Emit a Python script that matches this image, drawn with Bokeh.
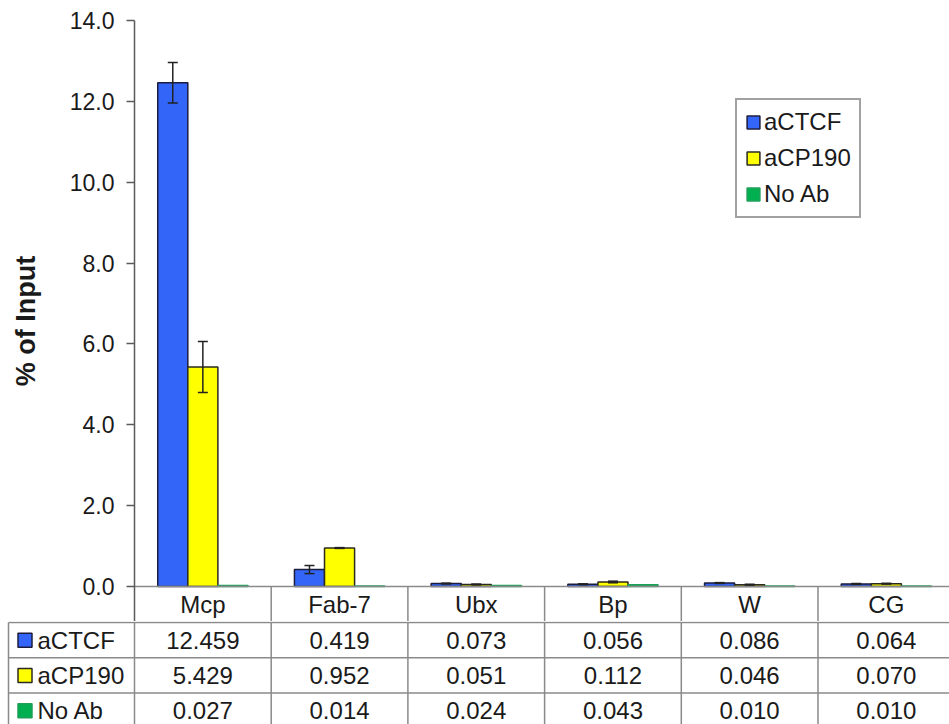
from bokeh.plotting import figure
from bokeh.models import (ColumnDataSource, Range1d, FixedTicker, NumeralTickFormatter,
                          Whisker, TeeHead, Legend, LegendItem)
from bokeh.core.properties import value
from bokeh.embed import file_html
from bokeh.resources import INLINE

# ---- data -------------------------------------------------------------
categories = ["Mcp", "Fab-7", "Ubx", "Bp", "W", "CG"]
series = ["aCTCF", "aCP190", "No Ab"]
actcf = [12.459, 0.419, 0.073, 0.056, 0.086, 0.064]
acp190 = [5.429, 0.952, 0.051, 0.112, 0.046, 0.070]
no_ab = [0.027, 0.014, 0.024, 0.043, 0.010, 0.010]
actcf_err = [0.50, 0.10, 0.01, 0.01, 0.01, 0.01]
acp190_err = [0.63, 0.01, 0.01, 0.02, 0.01, 0.01]
y_ticks = [0, 2, 4, 6, 8, 10, 12, 14]

# ---- styling / geometry ------------------------------------------------
FONT = value("Liberation Sans")
TXT = "#1a1a1a"
GRID = "#8a8a8a"
AXIS = "#5a5a5a"
fills = ["#3366f8", "#ffff00", "#00b050"]
edges = ["#1c1c3c", "#2a2a20", "#1f9e5a"]

W, H = 949, 724
AXIS_W = 134          # width of the y-axis / row-label column
TOP = 20
ZERO_PX = 586
CHART_H = 621         # chart canvas height (includes the header row of the table)
CAT_PX = 136.7        # width of one category column
ROW_PX = 35.3
PX_PER_Y = (ZERO_PX - TOP) / 14.0
BAR_W = 0.22
offsets = [-BAR_W, 0.0, BAR_W]

x_end = (W - AXIS_W) / CAT_PX
y_start = -(CHART_H - ZERO_PX) / PX_PER_Y

# ---- chart ------------------------------------------------------------
p = figure(width=W, height=CHART_H, x_range=Range1d(0, x_end),
           y_range=Range1d(y_start, 14), output_backend="svg",
           toolbar_location=None, x_axis_location=None,
           min_border_left=AXIS_W, min_border_right=0,
           min_border_top=TOP, min_border_bottom=0)
p.outline_line_color = None
p.grid.visible = False
p.background_fill_color = "white"

yax = p.yaxis[0]
yax.ticker = FixedTicker(ticks=y_ticks)
yax.formatter = NumeralTickFormatter(format="0.0")
yax.major_label_text_font = "Liberation Sans"
yax.major_label_text_font_size = "23px"
yax.major_label_text_color = TXT
yax.major_label_standoff = 12
yax.major_tick_out = 8
yax.major_tick_in = 0
yax.minor_tick_out = 0
yax.minor_tick_in = 0
yax.axis_line_color = AXIS
yax.axis_line_width = 1.5
yax.major_tick_line_color = AXIS
yax.major_tick_line_width = 1.5
yax.axis_label = "% of Input"
yax.axis_label_text_font = "Liberation Sans"
yax.axis_label_text_font_style = "bold"
yax.axis_label_text_font_size = "27px"
yax.axis_label_text_color = TXT
yax.axis_label_standoff = 26

values = [actcf, acp190, no_ab]
errors = [actcf_err, acp190_err, None]
renderers = []
for k, vals in enumerate(values):
    xs = [i + 0.5 + offsets[k] for i in range(len(categories))]
    src = ColumnDataSource(dict(x=xs, top=vals))
    r = p.vbar(x="x", top="top", bottom=0, width=BAR_W, source=src,
               fill_color=fills[k], line_color=edges[k], line_width=1.5)
    renderers.append(r)
    if errors[k] is not None:
        esrc = ColumnDataSource(dict(
            x=xs,
            upper=[v + e for v, e in zip(vals, errors[k])],
            lower=[v - e for v, e in zip(vals, errors[k])]))
        w = Whisker(base="x", upper="upper", lower="lower", source=esrc,
                    dimension="height", line_color="#222222", line_width=1.5,
                    level="overlay",
                    upper_head=TeeHead(size=10, line_color="#222222", line_width=1.5),
                    lower_head=TeeHead(size=10, line_color="#222222", line_width=1.5))
        p.add_layout(w)

# header row of the data table (category names)
bounds = list(range(1, len(categories) + 1))
p.segment(x0=[0], y0=[0], x1=[x_end], y1=[0], line_color=GRID, line_width=1.5)
p.segment(x0=bounds, y0=[0] * len(bounds), x1=bounds, y1=[y_start] * len(bounds),
          line_color=GRID, line_width=1.5)
p.text(x=[i + 0.5 for i in range(len(categories))],
       y=[-(604 - ZERO_PX) / PX_PER_Y] * len(categories), text=categories,
       text_font=FONT, text_font_size=value("24px"), text_color=TXT,
       text_align="center", text_baseline="middle")

legend = Legend(items=[LegendItem(label=s, renderers=[r]) for s, r in zip(series, renderers)],
                location=(735 - AXIS_W, CHART_H - 218),
                label_text_font="Liberation Sans", label_text_font_size="24px",
                label_text_color=TXT, glyph_width=16, glyph_height=16,
                label_standoff=3, spacing=8, padding=8, margin=0,
                border_line_color="#444444", border_line_width=2,
                background_fill_color="white", background_fill_alpha=1.0)
p.add_layout(legend)

# ---- data table rows --------------------------------------------------
TABLE_H = H - CHART_H
left_px = 8
t = figure(width=W, height=TABLE_H,
           x_range=Range1d(-AXIS_W / CAT_PX, x_end),
           y_range=Range1d((TABLE_H - 1) / ROW_PX, -1 / ROW_PX),
           output_backend="svg", toolbar_location=None,
           x_axis_location=None, y_axis_location=None,
           min_border_left=0, min_border_right=0,
           min_border_top=0, min_border_bottom=0)
t.outline_line_color = None
t.grid.visible = False

n_rows = len(series)
x_left = (left_px - AXIS_W) / CAT_PX
t.segment(x0=[x_left] * n_rows, y0=list(range(n_rows)), x1=[x_end] * n_rows,
          y1=list(range(n_rows)), line_color=GRID, line_width=1.5)
vlines = [x_left, 0] + bounds
t.segment(x0=vlines, y0=[0] * len(vlines), x1=vlines, y1=[n_rows + 1] * len(vlines),
          line_color=GRID, line_width=1.5)

for r, vals in enumerate(values):
    t.text(x=[i + 0.5 for i in range(len(categories))], y=[r + 0.5] * len(categories),
           text=[f"{v:.3f}" for v in vals], text_font=FONT,
           text_font_size=value("24px"), text_color=TXT,
           text_align="center", text_baseline="middle")

key_x = (24.5 - AXIS_W) / CAT_PX
lab_x = (37 - AXIS_W) / CAT_PX
t.scatter(x=[key_x] * n_rows, y=[r + 0.5 for r in range(n_rows)], marker="square",
          size=14, fill_color=fills, line_color=edges, line_width=1.5)
t.text(x=[lab_x] * n_rows, y=[r + 0.5 for r in range(n_rows)], text=series,
       text_font=FONT, text_font_size=value("24px"), text_color=TXT,
       text_align="left", text_baseline="middle")

# chart and table rows are separate roots so each keeps its own frame
open("out.html", "w").write(file_html([p, t], INLINE))
